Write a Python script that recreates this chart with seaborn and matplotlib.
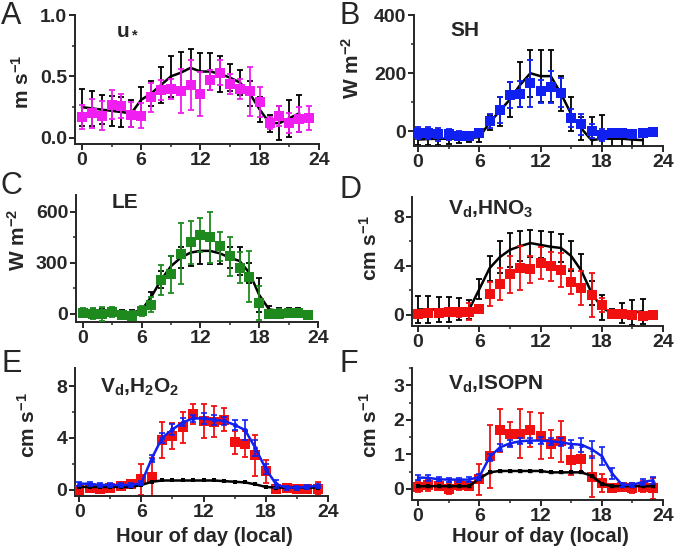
import numpy as np
import pandas as pd
import matplotlib
matplotlib.use("Agg")
import matplotlib.pyplot as plt
from matplotlib.ticker import MultipleLocator
import seaborn as sns

sns.set_style("ticks")
plt.rcParams['font.family'] = ['Liberation Sans', 'DejaVu Sans']
plt.rcParams['font.weight'] = 'bold'
plt.rcParams['mathtext.fontset'] = 'custom'
plt.rcParams['mathtext.rm'] = 'Liberation Sans:bold'
plt.rcParams['mathtext.bf'] = 'Liberation Sans:bold'
plt.rcParams['mathtext.it'] = 'Liberation Sans:bold'
plt.rcParams['mathtext.default'] = 'bf'

hours = list(range(24))
hours_model = list(range(23))

# Panel A: u*
ustar_obs = [0.17, 0.20, 0.18, 0.27, 0.26, 0.19, 0.18, 0.33, 0.39, 0.40, 0.38, 0.43,
             0.36, 0.47, 0.53, 0.44, 0.40, 0.38, 0.29, 0.12, 0.18, 0.12, 0.15, 0.16]
ustar_obs_err = [0.10, 0.12, 0.12, 0.12, 0.10, 0.10, 0.10, 0.12, 0.08, 0.08, 0.18, 0.20,
                 0.18, 0.08, 0.10, 0.08, 0.08, 0.20, 0.12, 0.05, 0.08, 0.08, 0.10, 0.10]
ustar_mod = [0.25, 0.24, 0.23, 0.22, 0.21, 0.20, 0.31, 0.36, 0.43, 0.50, 0.53, 0.57,
             0.54, 0.54, 0.52, 0.49, 0.45, 0.36, 0.23, 0.12, 0.12, 0.16, 0.20]
ustar_mod_err = [0.15, 0.14, 0.12, 0.12, 0.12, 0.11, 0.10, 0.10, 0.15, 0.17, 0.17, 0.15,
                 0.15, 0.15, 0.15, 0.11, 0.10, 0.10, 0.10, 0.07, 0.14, 0.15, 0.15]

# Panel B: SH
sh_obs = [-5, -5, -10, -10, -14, -14, -5, 36, 75, 124, 128, 165,
          138, 153, 133, 46, 24, 1, -13, -5, -5, -10, -5, -3]
sh_obs_err = [20, 20, 22, 20, 15, 12, 15, 25, 45, 45, 45, 80,
              40, 55, 50, 30, 35, 25, 20, 12, 12, 12, 10, 8]
sh_mod = [-28, -26, -25, -25, -24, -22, -20, 30, 70, 110, 160, 200,
          190, 190, 130, 60, 10, -30, -25, -25, -25, -28, -30]
sh_mod_err = [20, 20, 20, 18, 15, 15, 15, 25, 50, 60, 77, 80,
              90, 90, 60, 60, 40, 80, 80, 25, 25, 25, 25]

# Panel C: LE
le_obs = [5, 0, -4, 10, -8, -12, 14, 53, 198, 232, 352, 420,
          465, 451, 396, 337, 271, 218, 63, 0, 0, 6, 6, -10]
le_obs_err = [25, 30, 40, 30, 20, 25, 30, 45, 90, 110, 180, 125,
              100, 150, 85, 115, 90, 150, 100, 20, 25, 20, 20, 10]
le_mod = [5, 5, 5, 5, 5, 5, 20, 100, 200, 280, 330, 360,
          370, 370, 355, 330, 310, 240, 110, 25, 15, 15, 15]
le_mod_err = [20, 20, 20, 20, 15, 15, 15, 25, 50, 60, 60, 80,
              80, 80, 60, 60, 80, 60, 100, 20, 20, 20, 20]

# Panel D: Vd HNO3
hno3_obs = [0.05, 0.15, 0.13, 0.20, 0.20, 0.27, 0.50, 1.70, 2.50, 3.30, 3.85, 3.70,
            4.25, 3.95, 3.65, 2.70, 2.20, 1.60, 0.80, 0.10, 0.05, 0.03, -0.05, -0.03]
hno3_obs_err = [0.30, 0.30, 0.30, 0.30, 0.40, 0.70, 0.30, 1.00, 1.30, 1.50, 1.80, 1.10,
                1.30, 1.20, 1.40, 1.00, 1.40, 1.80, 0.60, 0.20, 0.20, 0.20, 0.20, 0.15]
hno3_mod = [0.45, 0.45, 0.45, 0.45, 0.45, 0.45, 2.10, 3.80, 4.70, 5.30, 5.60, 5.85,
            5.70, 5.55, 5.45, 4.80, 3.60, 1.80, 0.60, 0.15, 0.15, 0.20, 0.30]
hno3_mod_err = [1.10, 1.10, 1.00, 1.00, 0.90, 0.80, 0.80, 1.00, 1.30, 1.40, 1.20, 1.10,
                1.10, 1.20, 1.10, 1.20, 1.40, 1.00, 1.00, 0.30, 0.80, 1.00, 1.00]

# Panel E: Vd H2O2
h2o2_obs = [0.00, 0.15, 0.05, 0.10, 0.25, 0.45, 0.80, 0.95, 3.85, 4.15, 4.80, 5.85,
            5.30, 5.25, 5.40, 3.65, 3.50, 2.65, 1.40, 0.05, 0.10, 0.05, 0.05, 0.05]
h2o2_obs_err = [0.30, 0.30, 0.30, 0.30, 0.30, 0.30, 1.20, 1.50, 1.40, 1.00, 1.20, 0.80,
                1.30, 1.20, 0.90, 0.90, 1.00, 1.60, 0.90, 0.20, 0.30, 0.30, 0.30, 0.50]
h2o2_big = [0.45, 0.45, 0.35, 0.35, 0.35, 0.35, 0.50, 2.40, 4.00, 4.65, 5.20, 5.50,
            5.50, 5.40, 5.30, 5.00, 4.60, 3.20, 1.60, 0.40, 0.15, 0.15, 0.20, 0.30]
h2o2_big_err = [0.15, 0.15, 0.12, 0.12, 0.12, 0.12, 0.15, 0.30, 0.40, 0.40, 0.30, 0.30,
                0.40, 0.40, 0.30, 0.40, 0.80, 0.60, 0.40, 0.30, 0.15, 0.15, 0.15, 0.15]
h2o2_small = [0.20, 0.20, 0.20, 0.20, 0.20, 0.20, 0.35, 0.60, 0.70, 0.70, 0.70, 0.70,
              0.70, 0.70, 0.65, 0.60, 0.55, 0.40, 0.20, 0.15, 0.15, 0.15, 0.15, 0.15]

# Panel F: Vd ISOPN
isopn_obs = [0.06, 0.10, 0.09, 0.00, 0.10, 0.09, 0.28, 0.94, 1.70, 1.58, 1.60, 1.72,
             1.54, 1.30, 1.38, 0.85, 0.88, 0.36, 0.17, 0.02, 0.05, 0.02, 0.07, 0.02]
isopn_obs_err = [0.15, 0.15, 0.12, 0.15, 0.12, 0.12, 0.45, 0.92, 0.62, 0.35, 0.70, 0.50,
                 0.67, 0.40, 0.60, 0.45, 0.40, 0.60, 0.25, 0.10, 0.10, 0.15, 0.15, 0.30]
isopn_big = [0.33, 0.32, 0.28, 0.27, 0.27, 0.27, 0.35, 0.92, 1.20, 1.32, 1.38, 1.40,
             1.40, 1.38, 1.35, 1.30, 1.28, 1.15, 0.95, 0.45, 0.12, 0.12, 0.20, 0.25]
isopn_big_err = [0.08, 0.08, 0.06, 0.06, 0.06, 0.08, 0.08, 0.10, 0.10, 0.10, 0.08, 0.08,
                 0.10, 0.10, 0.12, 0.12, 0.20, 0.25, 0.27, 0.17, 0.06, 0.06, 0.08, 0.10]
isopn_small = [0.08, 0.08, 0.08, 0.08, 0.08, 0.08, 0.30, 0.48, 0.52, 0.52, 0.52, 0.52,
               0.52, 0.48, 0.48, 0.48, 0.48, 0.38, 0.15, 0.08, 0.08, 0.08, 0.08, 0.08]
isopn_small_err = [0.03] * 24

MAG = '#f01ef0'
BLUE = '#1020f0'
GREEN = '#1e8a1e'
RED = '#f01010'

fig = plt.figure(figsize=(6.78, 5.53), dpi=100)
W, H = 678.0, 553.0
TICK_FS = 14


def mkax(l, r, t, b):
    return fig.add_axes([l / W, 1 - b / H, (r - l) / W, (b - t) / H])


def style(ax, ylim, ymaj, xl=(-0.7, 24)):
    ax.set_xlim(*xl)
    ax.set_ylim(*ylim)
    ax.xaxis.set_major_locator(MultipleLocator(6))
    ax.xaxis.set_minor_locator(MultipleLocator(3))
    ax.yaxis.set_major_locator(MultipleLocator(ymaj))
    ax.yaxis.set_minor_locator(MultipleLocator(ymaj / 2))
    sns.despine(ax=ax)
    for s in ['left', 'bottom']:
        ax.spines[s].set_linewidth(1.4)
    ax.tick_params(which='major', direction='out', length=4, width=1.4,
                   labelsize=TICK_FS, pad=1.5)
    ax.tick_params(which='minor', direction='out', length=2.5, width=1.1)
    ax.set_xlabel('')
    ax.set_ylabel('')


def errs(ax, x, y, e, color, lw=1.3, cap=2.5, z=2):
    ax.errorbar(x, y, yerr=e, fmt='none', ecolor=color, elinewidth=lw,
                capsize=cap, capthick=lw, zorder=z)


def squares(ax, x, y, color, s=46, z=4):
    sns.scatterplot(x=x, y=y, ax=ax, marker='s', s=s, color=color,
                    edgecolor=color, linewidth=0, zorder=z, legend=False)


def line(ax, x, y, color, lw=1.8, z=3, marker=None, ms=3):
    sns.lineplot(x=x, y=y, ax=ax, color=color, lw=lw, zorder=z, legend=False,
                 marker=marker, markersize=ms, markeredgewidth=0)


# A
axA = mkax(75, 319, 15, 144)
errs(axA, hours_model, ustar_mod, ustar_mod_err, 'black', z=2)
line(axA, hours_model, ustar_mod, 'black')
errs(axA, hours, ustar_obs, ustar_obs_err, MAG, z=3)
squares(axA, hours, ustar_obs, MAG)
style(axA, (-0.05, 1.0), 0.5)
axA.set_yticks([0.0, 0.5, 1.0])
axA.set_yticklabels(['0.0', '0.5', '1.0'])

# B
axB = mkax(414, 663, 15, 146)
errs(axB, hours_model, sh_mod, sh_mod_err, 'black', z=2)
line(axB, hours_model, sh_mod, 'black')
errs(axB, hours, sh_obs, sh_obs_err, BLUE, z=3)
squares(axB, hours, sh_obs, BLUE)
style(axB, (-50, 400), 200, xl=(-0.4, 24))

# C
axC = mkax(76, 318, 195, 322)
errs(axC, hours_model, le_mod, le_mod_err, 'black', z=2)
line(axC, hours_model, le_mod, 'black')
errs(axC, hours, le_obs, le_obs_err, GREEN, z=3)
squares(axC, hours, le_obs, GREEN)
style(axC, (-50, 700), 300)

# D
axD = mkax(412, 663, 197, 326)
errs(axD, hours_model, hno3_mod, hno3_mod_err, 'black', z=2)
line(axD, hours_model, hno3_mod, 'black')
errs(axD, hours, hno3_obs, hno3_obs_err, RED, z=3)
squares(axD, hours, hno3_obs, RED)
style(axD, (-0.9, 9.6), 4, xl=(-0.6, 24))

# E
axE = mkax(75, 328, 368, 496)
errs(axE, hours, h2o2_obs, h2o2_obs_err, RED, z=2)
squares(axE, hours, h2o2_obs, RED, z=3)
line(axE, hours, h2o2_small, 'black', marker='s', ms=3, z=4)
errs(axE, hours, h2o2_big, h2o2_big_err, BLUE, z=5, lw=1.2, cap=2)
line(axE, hours, h2o2_big, BLUE, marker='o', ms=3.5, z=6)
style(axE, (-0.5, 9.4), 4, xl=(-0.4, 24))

# F
axF = mkax(412, 663, 368, 500)
errs(axF, hours, isopn_obs, isopn_obs_err, RED, z=2)
squares(axF, hours, isopn_obs, RED, z=3)
errs(axF, hours, isopn_small, isopn_small_err, 'black', z=4, lw=1.0, cap=1.5)
line(axF, hours, isopn_small, 'black', marker='s', ms=3, z=4)
errs(axF, hours, isopn_big, isopn_big_err, BLUE, z=5, lw=1.2, cap=2)
line(axF, hours, isopn_big, BLUE, marker='^', ms=3.5, z=6)
style(axF, (-0.32, 3.5), 1, xl=(-0.6, 24))

# y labels
ylab = dict(fontsize=15, fontweight='bold', rotation=90, ha='center', va='center')
fig.text(22 / W, 1 - 82 / H, r'm s$^{-1}$', **ylab)
fig.text(352 / W, 1 - 68 / H, r'W m$^{-2}$', **ylab)
fig.text(18 / W, 1 - 240 / H, r'W m$^{-2}$', **ylab)
fig.text(370 / W, 1 - 248 / H, r'cm s$^{-1}$', **ylab)
fig.text(28 / W, 1 - 425 / H, r'cm s$^{-1}$', **ylab)
fig.text(370 / W, 1 - 425 / H, r'cm s$^{-1}$', **ylab)

# panel letters
let = dict(fontsize=22, fontweight='normal', ha='left', va='center')
fig.text(1 / W, 1 - 16 / H, 'A', **let)
fig.text(339 / W, 1 - 16 / H, 'B', **let)
fig.text(1 / W, 1 - 186 / H, 'C', **let)
fig.text(339 / W, 1 - 190 / H, 'D', **let)
fig.text(1 / W, 1 - 364 / H, 'E', **let)
fig.text(339 / W, 1 - 364 / H, 'F', **let)

# inset titles
tt = dict(fontsize=15, fontweight='bold', ha='left', va='center')
fig.text(116 / W, 1 - 28 / H, r'u$_*$', **tt)
fig.text(450 / W, 1 - 30 / H, 'SH', **tt)
fig.text(112 / W, 1 - 203 / H, 'LE', **tt)
fig.text(448 / W, 1 - 209 / H, r'V$_d$,HNO$_3$', **tt)
fig.text(100 / W, 1 - 387 / H, r'V$_d$,H$_2$O$_2$', **tt)
fig.text(448 / W, 1 - 384 / H, r'V$_d$,ISOPN', **tt)

# x labels
fig.text(204 / W, 1 - 536 / H, 'Hour of day (local)', fontsize=14.5,
         fontweight='bold', ha='center', va='center')
fig.text(540 / W, 1 - 536 / H, 'Hour of day (local)', fontsize=14.5,
         fontweight='bold', ha='center', va='center')

fig.savefig('out.png', dpi=100)
